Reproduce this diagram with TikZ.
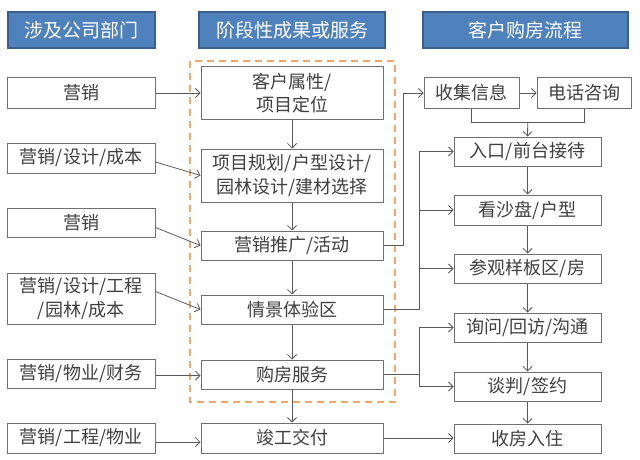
\documentclass[tikz,border=0pt]{standalone}
\usepackage{fontspec}
\setmainfont{Noto Sans CJK SC}
\usetikzlibrary{arrows.meta,calc}
\definecolor{hdrfill}{HTML}{4F81BD}
\definecolor{hdrline}{HTML}{3A5F8E}
\definecolor{boxline}{HTML}{707070}
\definecolor{txt}{HTML}{404040}
\definecolor{conn}{HTML}{595959}
\definecolor{orng}{HTML}{F0A868}
\begin{document}
\begin{tikzpicture}[x=1pt,y=-1pt,
  hdr/.style={draw=hdrline,line width=1.2pt,fill=hdrfill,text=white,inner sep=0pt,
    font=\fontsize{19}{22}\selectfont,minimum height=36pt},
  bx/.style={draw=boxline,line width=1pt,fill=white,text=txt,inner sep=0pt,align=center,
    font=\fontsize{18}{23.5}\selectfont,minimum height=29pt},
  arr/.style={draw=conn,line width=0.8pt,-{Straight Barb[length=4.5pt,width=9pt]}},
  ln/.style={draw=conn,line width=0.8pt}]
\useasboundingbox (0,0) rectangle (640,460);
% dashed group
\draw[orng,line width=2pt,dash pattern=on 7pt off 5pt] (190,61) rectangle (395,402);
% headers
\node[hdr,minimum width=147pt] (H1) at (81.5,30) {涉及公司部门};
\node[hdr,minimum width=186pt] (H2) at (292,30) {阶段性成果或服务};
\node[hdr,minimum width=205pt] (H3) at (525.5,30) {客户购房流程};
% left column
\node[bx,minimum width=148pt,minimum height=30pt] (L1) at (81,93) {营销};
\node[bx,minimum width=148pt,minimum height=30pt] (L2) at (81,158) {营销/设计/成本};
\node[bx,minimum width=148pt] (L3) at (81,222.5) {营销};
\node[bx,minimum width=148pt,minimum height=51pt] (L4) at (81,298.5) {营销/设计/工程\\/园林/成本};
\node[bx,minimum width=148pt] (L5) at (81,373.5) {营销/物业/财务};
\node[bx,minimum width=148pt,minimum height=30pt] (L6) at (81,438) {营销/工程/物业};
% middle column
\node[bx,minimum width=182pt,minimum height=52pt] (M1) at (292,93) {客户属性/\\项目定位};
\node[bx,minimum width=182pt,minimum height=53pt] (M2) at (292,175.5) {项目规划/户型设计/\\园林设计/建材选择};
\node[bx,minimum width=182pt] (M3) at (292,245.5) {营销推广/活动};
\node[bx,minimum width=182pt] (M4) at (292,309.5) {情景体验区};
\node[bx,minimum width=182pt] (M5) at (292,374.5) {购房服务};
\node[bx,minimum width=182pt,minimum height=30pt] (M6) at (292,438) {竣工交付};
% right column
\node[bx,minimum width=95pt,minimum height=30pt] (C1) at (471.5,93) {收集信息};
\node[bx,minimum width=94pt,minimum height=30pt] (C2) at (584,93) {电话咨询};
\node[bx,minimum width=147pt] (R1) at (527.5,151.5) {入口/前台接待};
\node[bx,minimum width=147pt,minimum height=30pt] (R2) at (527.5,210) {看沙盘/户型};
\node[bx,minimum width=147pt] (R3) at (527.5,268.5) {参观样板区/房};
\node[bx,minimum width=147pt] (R4) at (527.5,327.5) {询问/回访/沟通};
\node[bx,minimum width=147pt] (R5) at (527.5,386.5) {谈判/签约};
\node[bx,minimum width=147pt] (R6) at (527.5,438.5) {收房入住};
% left to middle
\draw[arr] (L1.east) -- (M1.west);
\draw[arr] ($(L2.east)+(0,4)$) -- (M2.west);
\draw[arr] ($(L3.east)+(0,5)$) -- (M3.west);
\draw[arr] ($(L4.east)+(0,-7)$) -- (M4.west);
\draw[arr] ($(L5.east)+(0,2)$) -- ($(M5.west)+(0,1)$);
\draw[arr] ($(L6.east)+(0,4)$) -- ($(M6.west)+(0,4)$);
% middle vertical
\draw[arr] (M1) -- (M2);
\draw[arr] (M2) -- (M3);
\draw[arr] (M3) -- (M4);
\draw[arr] (M4) -- (M5);
\draw[arr] (M5) -- (M6);
% middle to right
\coordinate (busA) at (403,0);
\coordinate (busB) at (419,0);
\draw[arr] (M3.east) -- (busA |- M3.east) -- (busA |- C1.west) -- (C1.west);
\draw[arr] (C1.east) -- (C2.west);
\coordinate (brk) at (527.75,122);
\draw[ln] (C1.south) -- (C1.south |- brk) -- (C2.south |- brk) -- (C2.south);
\draw[arr] (brk) -- (R1.north);
\draw[ln] (M4.east) -- (busB |- M4.east) -- (busB |- R1.west);
\draw[arr] (busB |- R1.west) -- (R1.west);
\draw[arr] (busB |- R2.west) -- (R2.west);
\draw[arr] (busB |- R3.west) -- (R3.west);
\draw[ln] (M5.east) -- (busB |- M5.east);
\draw[arr] (busB |- M5.east) -- (busB |- R4.west) -- (R4.west);
\draw[arr] (busB |- M5.east) -- (busB |- R5.west) -- (R5.west);
\draw[arr] (M6.east) -- (M6.east -| R6.west);
% right vertical
\draw[arr] (R1) -- (R2);
\draw[arr] (R2) -- (R3);
\draw[arr] (R3) -- (R4);
\draw[arr] (R4) -- (R5);
\draw[arr] (R5) -- (R6);
\end{tikzpicture}
\end{document}
